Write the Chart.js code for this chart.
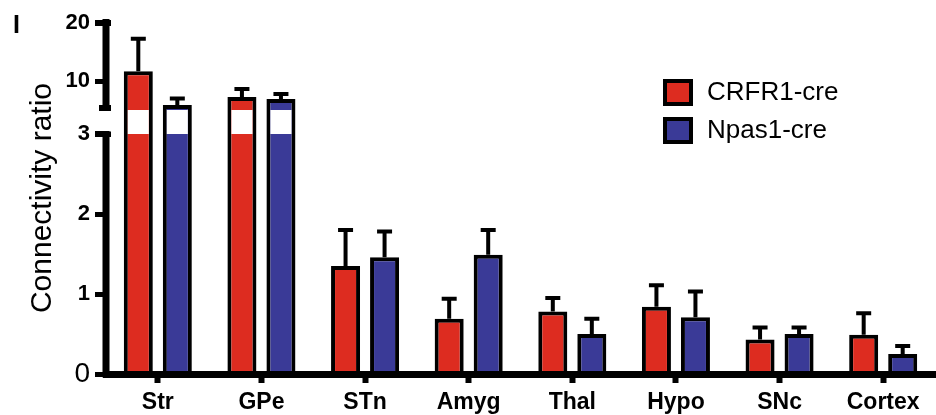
<!DOCTYPE html>
<html>
<head>
<meta charset="utf-8">
<script src="https://cdn.jsdelivr.net/npm/chart.js@4/dist/chart.umd.min.js"></script>
<style>
html,body{margin:0;padding:0;background:#fff;}
#wrap{width:936px;height:415px;position:relative;}
</style>
</head>
<body>
<div id="wrap"><canvas id="c"></canvas></div>
<script>
// ---- data ----
const categories = ['Str', 'GPe', 'STn', 'Amyg', 'Thal', 'Hypo', 'SNc', 'Cortex'];
const seriesNames = ['CRFR1-cre', 'Npas1-cre'];
const crfr1Values = [11.7, 7.24, 1.35, 0.69, 0.78, 0.84, 0.43, 0.49];
const crfr1Errors = [5.6, 1.36, 0.45, 0.25, 0.17, 0.27, 0.15, 0.27];
const npas1Values = [5.86, 6.9, 1.46, 1.49, 0.50, 0.71, 0.50, 0.25];
const npas1Errors = [1.14, 0.86, 0.32, 0.31, 0.19, 0.32, 0.08, 0.10];
const yTickValues = [0, 1, 2, 3, 10, 20];
const yTickLabels = ['0', '1', '2', '3', '10', '20'];
const breakLow = 3, breakHigh = 5, yTop = 20;

// broken-axis transform: 0..3 linear, gap 3..5, compressed 5..20
const GAP = 0.3, UPPER = 0.0725;
function T(v) {
  if (v <= breakLow) return v;
  if (v < breakHigh) return breakLow + (v - breakLow) / (breakHigh - breakLow) * GAP;
  return breakLow + GAP + (v - breakHigh) * UPPER;
}

const RED = '#DD2C20', BLUE = '#3A3A97';

const decor = {
  id: 'decor',
  afterDatasetsDraw(chart) {
    const ctx = chart.ctx, y = chart.scales.y;
    const gTop = y.getPixelForValue(T(breakHigh)), gBot = y.getPixelForValue(T(breakLow));
    chart.data.datasets.forEach((ds, di) => {
      const meta = chart.getDatasetMeta(di);
      meta.data.forEach((el, i) => {
        const raw = ds.rawValues[i], err = ds.errors[i];
        const bw = ds.borderWidth, w = el.width;
        ctx.save();
        if (raw > breakLow) {
          ctx.fillStyle = '#fff';
          ctx.fillRect(el.x - w / 2 + bw, gTop, w - 2 * bw, gBot - gTop);
        }
        const top = y.getPixelForValue(T(raw + err));
        ctx.strokeStyle = '#000';
        ctx.lineWidth = 4;
        ctx.beginPath();
        ctx.moveTo(el.x, el.y);
        ctx.lineTo(el.x, top);
        ctx.moveTo(el.x - 7.5, top);
        ctx.lineTo(el.x + 7.5, top);
        ctx.stroke();
        ctx.restore();
      });
    });
  },
  afterDraw(chart) {
    const ctx = chart.ctx, y = chart.scales.y, L = chart.chartArea.left;
    const p0 = y.getPixelForValue(0), p3 = y.getPixelForValue(T(breakLow));
    const p5 = y.getPixelForValue(T(breakHigh)), p20 = y.getPixelForValue(T(yTop));
    ctx.save();
    ctx.fillStyle = '#000';
    // lower segment
    ctx.fillRect(L - 3.5, p3 - 3, 7, p0 + 3.5 - (p3 - 3));
    ctx.fillRect(L - 11, p3 - 2.5, 16, 5.5);
    // upper segment
    ctx.fillRect(L - 3.5, p20 - 4, 7, p5 + 1 - (p20 - 4));
    ctx.fillRect(L - 7, p5 - 5, 12, 6);
    ctx.fillRect(L - 11, p20 - 3, 16, 6);
    // legend
    const lx = 663, ly = [79, 117];
    chart.data.datasets.forEach((ds, i) => {
      ctx.fillStyle = '#000';
      ctx.fillRect(lx, ly[i], 30, 27);
      ctx.fillStyle = ds.backgroundColor;
      ctx.fillRect(lx + 4, ly[i] + 4, 22, 19);
      ctx.fillStyle = '#000';
      ctx.font = '26px "Liberation Sans"';
      ctx.textBaseline = 'middle';
      ctx.textAlign = 'left';
      ctx.fillText(ds.label, 707, ly[i] + 14);
    });
    // panel letter
    ctx.fillStyle = '#000';
    ctx.font = 'bold 25px "Liberation Sans"';
    ctx.textAlign = 'left';
    ctx.textBaseline = 'alphabetic';
    ctx.fillText('I', 13, 33);
    ctx.restore();
  }
};

new Chart(document.getElementById('c'), {
  type: 'bar',
  data: {
    labels: categories,
    datasets: [
      { label: seriesNames[0], data: crfr1Values.map(T), rawValues: crfr1Values, errors: crfr1Errors,
        backgroundColor: RED, borderColor: '#000', borderWidth: 4, borderSkipped: 'start',
        barPercentage: 0.744, categoryPercentage: 0.753 },
      { label: seriesNames[1], data: npas1Values.map(T), rawValues: npas1Values, errors: npas1Errors,
        backgroundColor: BLUE, borderColor: '#000', borderWidth: 4, borderSkipped: 'start',
        barPercentage: 0.744, categoryPercentage: 0.753 }
    ]
  },
  options: {
    responsive: true,
    maintainAspectRatio: false,
    animation: false,
    devicePixelRatio: 1,
    layout: { padding: { top: 22, right: 1, left: 0, bottom: 0 } },
    plugins: { legend: { display: false }, tooltip: { enabled: false } },
    scales: {
      x: {
        grid: { display: true, drawOnChartArea: false, drawTicks: true, tickLength: 9, tickWidth: 6,
                tickColor: '#000', color: '#000', offset: false, z: 1 },
        border: { display: true, color: '#000', width: 7, z: 1 },
        ticks: { color: '#000', font: { family: 'Liberation Sans', size: 23, weight: 'bold' },
                 padding: 6, maxRotation: 0, autoSkip: false },
        afterFit(s) { s.height = 41; }
      },
      y: {
        min: 0,
        max: T(yTop) + 0.0125,
        grid: { display: true, drawOnChartArea: false, drawTicks: true, tickLength: 11, tickWidth: 5,
                tickColor: '#000', color: '#000', lineWidth: 5 },
        border: { display: false },
        afterBuildTicks(s) { s.ticks = yTickValues.map(v => ({ value: T(v) })); },
        ticks: {
          autoSkip: false,
          padding: 5,
          color: '#000',
          callback: (v, i) => yTickLabels[i],
          font: (c) => c.index === 0
            ? { family: 'Liberation Sans', size: 28, weight: 'normal' }
            : { family: 'Liberation Sans', size: 22, weight: 'bold' }
        },
        title: { display: true, text: 'Connectivity ratio', color: '#000',
                 font: { family: 'Liberation Sans', size: 30 }, padding: { top: 25, bottom: 0 } },
        afterFit(s) { s.width = 106; }
      }
    }
  },
  plugins: [decor]
});
</script>
</body>
</html>
